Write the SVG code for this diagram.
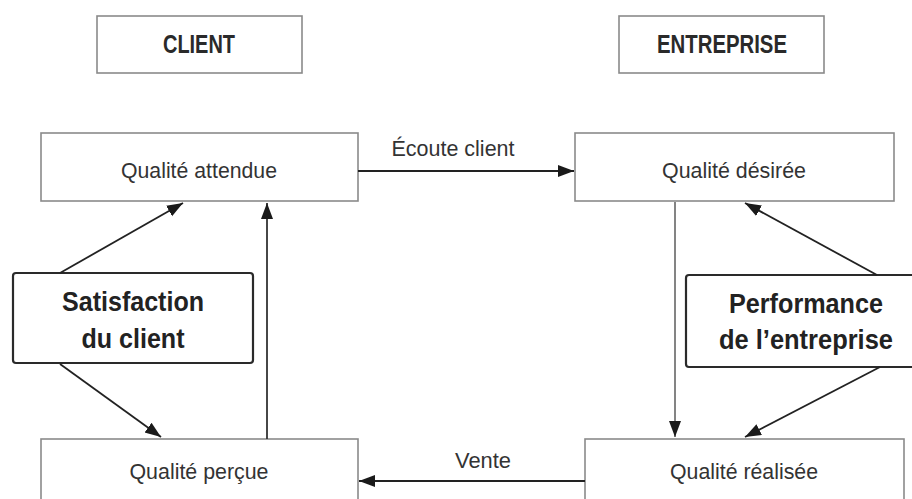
<svg xmlns="http://www.w3.org/2000/svg" width="912" height="499" viewBox="0 0 912 499">
<style>
.box{fill:#fff;stroke:#8a8a8a;stroke-width:1.6}
.bbox{fill:#fff;stroke:#2a2a2a;stroke-width:2.2}
.t{font-family:"Liberation Sans",Arial,sans-serif;font-size:22.5px;fill:#333;text-anchor:middle}
.h{font-family:"Liberation Sans",Arial,sans-serif;font-size:25px;font-weight:bold;fill:#2a2a2a;text-anchor:middle}
.b{font-family:"Liberation Sans",Arial,sans-serif;font-size:27px;font-weight:bold;fill:#222;text-anchor:middle}
.c{fill:none;stroke:#222;stroke-width:1.8}
</style>
<defs>
<marker id="ah" markerUnits="userSpaceOnUse" markerWidth="18" markerHeight="14" refX="16" refY="6" orient="auto">
<path d="M0,0 L16,6 L0,12 z" fill="#1a1a1a"/>
</marker>
</defs>
<rect width="912" height="499" fill="#fff"/>
<g id="client">
<rect class="box" x="97" y="16" width="205" height="57"/>
<text class="h" x="199" y="53" textLength="72" lengthAdjust="spacingAndGlyphs">CLIENT</text>
</g>
<g id="entreprise">
<rect class="box" x="619" y="16" width="205" height="57"/>
<text class="h" x="722" y="53" textLength="130" lengthAdjust="spacingAndGlyphs">ENTREPRISE</text>
</g>
<g id="qualite-attendue">
<rect class="box" x="41" y="133" width="317" height="68"/>
<text class="t" x="199" y="178" textLength="156" lengthAdjust="spacingAndGlyphs">Qualité attendue</text>
</g>
<g id="qualite-desiree">
<rect class="box" x="575" y="133" width="319" height="68"/>
<text class="t" x="734" y="178" textLength="144" lengthAdjust="spacingAndGlyphs">Qualité désirée</text>
</g>
<g id="satisfaction">
<rect class="bbox" x="13" y="273" width="240" height="90" rx="3"/>
<text class="b" x="133" y="311" textLength="142" lengthAdjust="spacingAndGlyphs">Satisfaction</text>
<text class="b" x="133" y="348" textLength="103" lengthAdjust="spacingAndGlyphs">du client</text>
</g>
<g id="performance">
<rect class="bbox" x="686" y="275" width="250" height="92" rx="3"/>
<text class="b" x="806" y="313" textLength="154" lengthAdjust="spacingAndGlyphs">Performance</text>
<text class="b" x="806" y="349" textLength="174" lengthAdjust="spacingAndGlyphs">de l’entreprise</text>
</g>
<g id="qualite-percue">
<rect class="box" x="41" y="439" width="317" height="80"/>
<text class="t" x="199" y="479" textLength="139" lengthAdjust="spacingAndGlyphs">Qualité perçue</text>
</g>
<g id="qualite-realisee">
<rect class="box" x="585" y="439" width="319" height="80"/>
<text class="t" x="744" y="479" textLength="148" lengthAdjust="spacingAndGlyphs">Qualité réalisée</text>
</g>
<g id="connectors">
<line class="c" x1="358" y1="171" x2="574" y2="171" marker-end="url(#ah)"/>
<text class="t" x="453" y="156" textLength="123" lengthAdjust="spacingAndGlyphs">Écoute client</text>
<line class="c" x1="585" y1="481" x2="359" y2="481" marker-end="url(#ah)"/>
<text class="t" x="483" y="468" textLength="56" lengthAdjust="spacingAndGlyphs">Vente</text>
<line class="c" x1="60" y1="273" x2="183" y2="203" marker-end="url(#ah)"/>
<line class="c" x1="60" y1="364" x2="161" y2="437" marker-end="url(#ah)"/>
<line class="c" x1="267" y1="439" x2="267" y2="203" stroke-width="2.4" style="stroke:#333" marker-end="url(#ah)"/>
<line class="c" x1="675" y1="202" x2="675" y2="437" style="stroke:#777" marker-end="url(#ah)"/>
<line class="c" x1="877" y1="275" x2="745" y2="203" marker-end="url(#ah)"/>
<line class="c" x1="880" y1="367" x2="745" y2="437" marker-end="url(#ah)"/>
</g>
</svg>
